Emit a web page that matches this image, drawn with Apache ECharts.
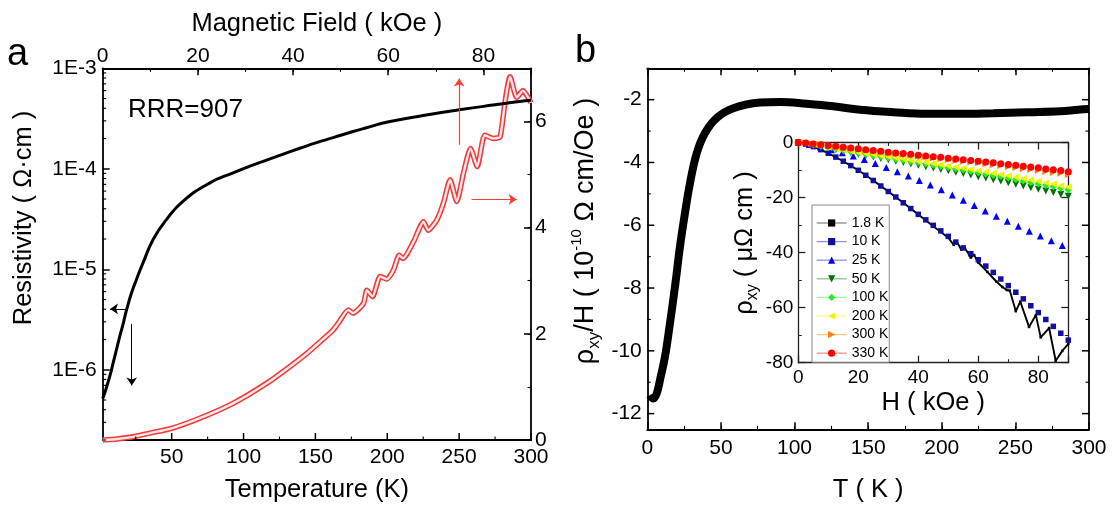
<!DOCTYPE html>
<html><head><meta charset="utf-8">
<script src="https://cdn.jsdelivr.net/npm/echarts@6.0.0/dist/echarts.min.js"></script>
<style>html,body{margin:0;padding:0;background:#fff}#c{width:1115px;height:511px}</style>
</head><body><div id="c"></div>
<script>
// ---------- DATA ----------
// Panel a: resistivity vs temperature (bottom axis / left log axis)
const tempA = [2, 3.6, 7.1, 9.4, 11.7, 14, 15.9, 18.7, 22.2, 25.6, 30.2, 37.2, 46.5, 58, 76.6, 92.8, 100.5, 116, 127.6, 139.2, 150.8, 162.4, 175, 185.5, 200.2, 225, 250, 275, 292, 300];
const rhoA = [5.16e-7, 6.0e-7, 8.8e-7, 1.19e-6, 1.61e-6, 2.19e-6, 2.75e-6, 4.0e-6, 5.9e-6, 8.0e-6, 1.17e-5, 1.99e-5, 3.14e-5, 4.77e-5, 7.25e-5, 9.12e-5, 1.01e-4, 1.22e-4, 1.40e-4, 1.60e-4, 1.82e-4, 2.04e-4, 2.32e-4, 2.56e-4, 2.92e-4, 3.39e-4, 3.86e-4, 4.33e-4, 4.67e-4, 4.81e-4];
// Panel a: magnetoresistance vs magnetic field (top axis / right axis)
const fieldA = [0, 3, 6.4, 9.9, 14.5, 20.4, 27.4, 34.5, 39.3, 42.9, 45.7, 48.4, 49.5, 51.6, 52.6, 54.8, 55.5, 56.7, 58.3, 59.7, 61.1, 62.3, 63.1, 65.3, 67.4, 68.4, 70.2, 71.6, 73.0, 74.4, 75.8, 77.3, 78.7, 80.3, 82.1, 83.5, 84.5, 85.6, 87.0, 88.3, 90.0];
const mrA = [0, 0.02, 0.06, 0.13, 0.22, 0.41, 0.69, 1.07, 1.38, 1.63, 1.85, 2.07, 2.20, 2.45, 2.39, 2.57, 2.82, 2.70, 3.08, 3.03, 3.20, 3.48, 3.42, 3.73, 4.11, 3.95, 4.14, 4.46, 4.90, 4.49, 5.02, 5.49, 5.15, 5.74, 5.68, 5.71, 6.34, 6.84, 6.45, 6.58, 6.35];
// Panel b: rho_xy/H vs T
const tempB = [1.8, 4.1, 6.4, 8.6, 12, 15.4, 18.8, 22.2, 25.6, 29, 33.6, 39.2, 47.1, 58.4, 76.6, 90.1, 108.3, 126.4, 144.5, 167.1, 189.8, 212.4, 235, 257.7, 280.4, 292.8, 300];
const hallB = [-11.41, -11.52, -11.36, -10.93, -10.19, -9.12, -7.96, -6.68, -5.61, -4.66, -3.70, -3.06, -2.58, -2.27, -2.09, -2.07, -2.13, -2.21, -2.32, -2.40, -2.45, -2.45, -2.43, -2.40, -2.37, -2.32, -2.30];
// Inset: rho_xy vs H
const insetNames = ['1.8 K', '10 K', '25 K', '50 K', '100 K', '200 K', '300 K', '330 K'];
const h18 = [0, 5, 10, 15, 20, 25, 30, 35, 40, 45, 50, 51.8, 52.7, 54.3, 55.3, 57.5, 58.6, 60, 63, 66, 68, 69.5, 70.5, 72.5, 74.0, 76.9, 79.2, 80.8, 83.6, 85.8, 88, 90];
const r18 = [0, -1.5, -3.9, -6.8, -10.1, -13.8, -17.8, -21.9, -26.2, -30.4, -34.6, -37.2, -35.8, -38.9, -38.0, -41.8, -40.9, -43.6, -47.0, -50.5, -52.5, -53.6, -53.8, -61.3, -57.8, -67.0, -62.7, -70.8, -67.4, -79.3, -75.7, -73.2];
const hGrid = [0, 2.5, 5, 7.5, 10, 12.5, 15, 17.5, 20, 22.5, 25, 27.5, 30, 32.5, 35, 37.5, 40, 42.5, 45, 47.5, 50, 52.5, 55, 57.5, 60, 62.5, 65, 67.5, 70, 72.5, 75, 77.5, 80, 82.5, 85, 87.5, 90];
const r10 = [0, -0.6, -1.5, -2.6, -3.9, -5.3, -6.8, -8.4, -10.1, -11.9, -13.8, -15.8, -17.8, -19.8, -21.9, -24.0, -26.1, -28.1, -30.1, -32.1, -34.1, -36.2, -38.3, -40.4, -42.6, -44.9, -47.2, -49.6, -52.0, -54.4, -56.8, -59.3, -61.8, -64.3, -66.8, -69.3, -71.8];
const h25 = [0, 3.67, 7.33, 11, 14.67, 18.33, 22, 25.67, 29.33, 33, 36.67, 40.33, 44, 47.67, 51.33, 55, 58.67, 62.33, 66, 69.67, 73.33, 77, 80.67, 84.33, 88];
const r25 = [0, -0.7, -1.6, -2.6, -3.7, -4.9, -6.2, -7.6, -9.1, -10.6, -12.2, -13.8, -15.4, -17.2, -19.1, -21.0, -22.9, -24.9, -26.8, -28.6, -30.4, -32.2, -34.0, -35.7, -37.4];
const r50 = [0, -0.4, -0.9, -1.5, -2.0, -2.6, -3.2, -3.7, -4.3, -4.8, -5.3, -5.8, -6.3, -6.8, -7.3, -7.8, -8.3, -8.8, -9.3, -9.8, -10.3, -10.8, -11.3, -11.8, -12.4, -12.9, -13.5, -14.0, -14.6, -15.2, -15.8, -16.4, -17.0, -17.6, -18.2, -18.9, -19.5];
const r100 = [0, -0.3, -0.8, -1.3, -1.8, -2.3, -2.8, -3.3, -3.8, -4.2, -4.7, -5.1, -5.5, -6.0, -6.4, -6.9, -7.3, -7.7, -8.2, -8.6, -9.1, -9.5, -9.9, -10.4, -10.9, -11.4, -11.9, -12.3, -12.8, -13.4, -13.9, -14.4, -15.0, -15.5, -16.0, -16.6, -17.2];
const r200 = [0, -0.3, -0.7, -1.2, -1.7, -2.2, -2.7, -3.1, -3.6, -4.0, -4.4, -4.8, -5.2, -5.6, -6.1, -6.5, -6.9, -7.3, -7.7, -8.1, -8.5, -9.0, -9.4, -9.8, -10.3, -10.7, -11.2, -11.6, -12.1, -12.6, -13.1, -13.6, -14.1, -14.6, -15.1, -15.7, -16.2];
const r300 = [0, -0.2, -0.5, -0.9, -1.2, -1.6, -1.9, -2.2, -2.6, -2.9, -3.2, -3.5, -3.8, -4.1, -4.4, -4.7, -5.0, -5.3, -5.6, -5.9, -6.2, -6.5, -6.8, -7.1, -7.4, -7.7, -8.1, -8.4, -8.8, -9.1, -9.5, -9.8, -10.2, -10.5, -10.9, -11.2, -11.6];
const r330 = [0, -0.2, -0.5, -0.8, -1.1, -1.4, -1.7, -2.0, -2.3, -2.6, -2.9, -3.2, -3.5, -3.8, -4.0, -4.3, -4.6, -4.9, -5.2, -5.4, -5.7, -6.0, -6.3, -6.5, -6.8, -7.1, -7.4, -7.7, -8.0, -8.3, -8.6, -8.9, -9.2, -9.6, -9.9, -10.2, -10.6];
// Tick labels / tick positions
const tTicksA = [50, 100, 150, 200, 250, 300];
const tMinorA = [25, 75, 125, 175, 225, 275];
const hTicksA = [0, 20, 40, 60, 80];
const rhoTicks = [1e-6, 1e-5, 1e-4, 1e-3];
const mrTicks = [0, 2, 4, 6];
const tTicksB = [0, 50, 100, 150, 200, 250, 300];
const hallTicks = [-12, -10, -8, -6, -4, -2];
const hallMinor = [-11, -9, -7, -5, -3];
const hTicksIn = [0, 20, 40, 60, 80];
const rhoTicksIn = [-80, -60, -40, -20, 0];

// ---------- HELPERS ----------
const F = '"Liberation Sans", Arial, Helvetica, sans-serif';
const zip = (xs, ys) => xs.map((x, i) => [x, ys[i]]);
const logMinor = [];
[-7, -6, -5, -4].forEach(e => { for (let m = 2; m <= 9; m++) { const v = m * Math.pow(10, e); if (v >= 2e-7 && v < 1e-3) logMinor.push(v); } });

function ax(grid, pos, min, max, o) {
  o = o || {};
  const col = o.color || '#000';
  const a = {
    type: o.type || 'value', gridIndex: grid, position: pos, min: min, max: max,
    axisLine: { show: o.line !== false, onZero: false, lineStyle: { color: col, width: o.lw || 1.8 } },
    axisTick: { show: !o.noTicks, inside: true, length: o.tl || 7, lineStyle: { color: col, width: o.tw || 1.5 } },
    axisLabel: o.labels ? { show: true, customValues: o.labels, color: '#000', fontFamily: F, fontSize: o.fs || 21, margin: o.margin == null ? 6 : o.margin } : { show: false },
    splitLine: { show: false }
  };
  if (o.interval) a.interval = o.interval;
  if (o.fmt) a.axisLabel.formatter = o.fmt;
  if (a.type === 'log') a.logBase = 10;
  if (o.name) {
    a.name = o.name; a.nameLocation = 'middle'; a.nameGap = o.nameGap; a.nameMoveOverlap = false;
    a.nameTextStyle = { color: '#000', fontFamily: F, fontSize: 25.5 };
  }
  return a;
}

const xAxis = [
  ax(0, 'bottom', 2, 300, { noTicks: true, labels: tTicksA, margin: 7, name: 'Temperature (K)', nameGap: 37 }),
  ax(0, 'top', 0, 90, { interval: 20, labels: hTicksA, margin: 2, name: 'Magnetic Field ( kOe )', nameGap: 31 }),
  ax(0, 'top', 0, 90, { interval: 10, line: false, tl: 3.5, tw: 1.1 }),
  ax(1, 'bottom', 0, 300, { interval: 50, labels: tTicksB, margin: 8.5, name: 'T ( K )', nameGap: 48 }),
  ax(1, 'top', 0, 300, { interval: 50 }),
  ax(1, 'bottom', 0, 300, { interval: 25, line: false, tl: 3.5, tw: 1.1 }),
  ax(1, 'top', 0, 300, { interval: 25, line: false, tl: 3.5, tw: 1.1 }),
  ax(2, 'bottom', 0, 90, { interval: 20, labels: hTicksIn, fs: 19, margin: 6, name: 'H ( kOe )', nameGap: 27, lw: 1.3, tw: 1.3, color: '#222' }),
  ax(2, 'top', 0, 90, { interval: 20, lw: 1.3, tw: 1.3, color: '#222' }),
  ax(2, 'bottom', 0, 90, { interval: 10, line: false, tl: 3.5, tw: 1, color: '#222' }),
  ax(2, 'top', 0, 90, { interval: 10, line: false, tl: 3.5, tw: 1, color: '#222' })
];
const yAxis = [
  ax(0, 'left', 2e-7, 1e-3, { type: 'log', labels: rhoTicks, margin: 6, fmt: v => '1E' + Math.round(Math.log10(v)) }),
  ax(0, 'right', 0, 7, { interval: 2, labels: mrTicks, margin: 4 }),
  ax(0, 'right', 0, 7, { interval: 1, line: false, tl: 3.5, tw: 1.1 }),
  ax(1, 'left', -12.5, -1, { noTicks: true, labels: hallTicks, margin: 5.5 }),
  ax(1, 'right', -12.5, -1, { noTicks: true }),
  ax(2, 'left', -80, 0, { interval: 20, labels: rhoTicksIn, fs: 19, margin: 5, lw: 1.3, tw: 1.3, color: '#222' }),
  ax(2, 'right', -80, 0, { interval: 20, lw: 1.3, tw: 1.3, color: '#222' }),
  ax(2, 'left', -80, 0, { interval: 10, line: false, tl: 3.5, tw: 1, color: '#222' }),
  ax(2, 'right', -80, 0, { interval: 10, line: false, tl: 3.5, tw: 1, color: '#222' })
];

// tick marks drawn through the axis scales (for axes whose first tick is not at the axis minimum)
function tickSeries(xi, yi, side, len, pts) {
  return {
    type: 'custom', xAxisIndex: xi, yAxisIndex: yi, data: pts, silent: true, clip: false, z: 10,
    renderItem: function (params, api) {
      const p = api.coord([api.value(0), api.value(1)]);
      const cs = params.coordSys;
      const b = cs.y + cs.height, t = cs.y, l = cs.x, r = cs.x + cs.width;
      let s;
      if (side === 0) s = { x1: p[0], y1: b, x2: p[0], y2: b - len };
      else if (side === 1) s = { x1: p[0], y1: t, x2: p[0], y2: t + len };
      else if (side === 2) s = { x1: l, y1: p[1], x2: l + len, y2: p[1] };
      else s = { x1: r, y1: p[1], x2: r - len, y2: p[1] };
      return { type: 'line', shape: s, style: { stroke: '#000', lineWidth: len > 5 ? 1.5 : 1.1 } };
    }
  };
}

function ins(name, xs, ys, color, symbol, size, rot, line) {
  return {
    name: name, type: 'line', xAxisIndex: 7, yAxisIndex: 5, data: zip(xs, ys),
    symbol: symbol, symbolSize: size, symbolRotate: rot || 0, showSymbol: true, showAllSymbol: true,
    itemStyle: { color: color }, lineStyle: line || { color: color, width: 0, opacity: 0 },
    emphasis: { disabled: true }, z: 4
  };
}
const arrowBase = { silent: true, animation: false, symbol: ['none', 'arrow'], symbolSize: 8, label: { show: false }, emphasis: { disabled: true } };

const series = [
  { type: 'line', xAxisIndex: 0, yAxisIndex: 0, data: zip(tempA, rhoA), smooth: 0.5, symbol: 'none', lineStyle: { color: '#000', width: 3 }, z: 3,
    markLine: Object.assign({}, arrowBase, { lineStyle: { color: '#000', width: 1, type: 'solid' },
      data: [[{ coord: [17.5, 4.03e-6] }, { coord: [7.1, 4.03e-6] }], [{ coord: [22.2, 2.86e-6] }, { coord: [22.2, 6.98e-7] }]] }) },
  { type: 'line', xAxisIndex: 1, yAxisIndex: 1, data: zip(fieldA, mrA), smooth: 0.2, symbol: 'none', lineStyle: { color: '#ee3b3b', width: 5.5 }, z: 2,
    markLine: Object.assign({}, arrowBase, { lineStyle: { color: '#ff3a3a', width: 1.2, type: 'solid' },
      data: [[{ coord: [74.9, 5.56] }, { coord: [74.9, 6.81] }], [{ coord: [77.5, 4.53] }, { coord: [87.0, 4.53] }]] }) },
  { type: 'line', xAxisIndex: 1, yAxisIndex: 1, data: zip(fieldA, mrA), smooth: 0.2, symbol: 'none', lineStyle: { color: '#fde6e6', width: 2.4 }, z: 2 },
  { type: 'line', xAxisIndex: 3, yAxisIndex: 3, data: zip(tempB, hallB), smooth: 0.4, symbol: 'none', lineStyle: { color: '#000', width: 8 }, z: 3 },
  ins('1.8 K', h18, r18, '#000', 'rect', 2.5, 0, { color: '#000', width: 1.9 }),
  ins('10 K', hGrid, r10, '#10109a', 'rect', 5.5),
  ins('25 K', h25, r25, '#0000ff', 'triangle', 7),
  ins('50 K', hGrid, r50, '#007000', 'triangle', 7, 180),
  ins('100 K', hGrid, r100, '#22ee22', 'diamond', 7.5),
  ins('200 K', hGrid, r200, '#f4f400', 'triangle', 7, 90),
  ins('300 K', hGrid, r300, '#ff8000', 'triangle', 7, -90),
  ins('330 K', hGrid, r330, '#ff0000', 'circle', 7),
  tickSeries(0, 0, 0, 7, tTicksA.map(v => [v, 1e-4])),
  tickSeries(0, 0, 0, 3.5, tMinorA.map(v => [v, 1e-4])),
  tickSeries(0, 0, 2, 3.5, logMinor.map(v => [100, v])),
  tickSeries(3, 3, 2, 7, hallTicks.map(v => [150, v])),
  tickSeries(3, 3, 3, 7, hallTicks.map(v => [150, v])),
  tickSeries(3, 3, 2, 3.5, hallMinor.map(v => [150, v])),
  tickSeries(3, 3, 3, 3.5, hallMinor.map(v => [150, v]))
];

const rich = {
  m: { fontFamily: F, fontSize: 25.5, fill: '#000', lineHeight: 32 },
  s: { fontFamily: F, fontSize: 16, fill: '#000', lineHeight: 16, verticalAlign: 'bottom' },
  p: { fontFamily: F, fontSize: 14, fill: '#000', lineHeight: 14, verticalAlign: 'top' }
};
const richB = {
  m: { fontFamily: F, fontSize: 27, fill: '#000', lineHeight: 34 },
  s: { fontFamily: F, fontSize: 17, fill: '#000', lineHeight: 17, verticalAlign: 'bottom' },
  p: { fontFamily: F, fontSize: 15, fill: '#000', lineHeight: 15, verticalAlign: 'top' }
};

const option = {
  animation: false,
  backgroundColor: '#fff',
  grid: [
    { left: 102.7, top: 68.3, width: 428.3, height: 371.7, containLabel: false, outerBoundsMode: 'none' },
    { left: 647.3, top: 68.3, width: 441.7, height: 361, containLabel: false, outerBoundsMode: 'none' },
    { left: 798.3, top: 142.5, width: 270, height: 220.2, containLabel: false, outerBoundsMode: 'none', show: true, backgroundColor: '#fff', borderWidth: 0 }
  ],
  xAxis: xAxis,
  yAxis: yAxis,
  legend: {
    orient: 'vertical', left: 812, top: 205, padding: [11, 1, 2, 4], itemWidth: 30, itemHeight: 9, itemGap: 4.6,
    data: insetNames, selectedMode: false, borderColor: '#888', borderWidth: 1, backgroundColor: '#fff',
    textStyle: { fontFamily: F, fontSize: 14, color: '#000', lineHeight: 14 },
    lineStyle: { width: 1.3, opacity: 0.45 }, z: 10
  },
  graphic: [
    { type: 'text', x: 7, y: 55, style: { text: 'a', font: '38px ' + F, fill: '#000', align: 'left', verticalAlign: 'middle' } },
    { type: 'text', x: 575, y: 52, style: { text: 'b', font: '38px ' + F, fill: '#000', align: 'left', verticalAlign: 'middle' } },
    { type: 'text', x: 128, y: 110, style: { text: 'RRR=907', font: '26px ' + F, fill: '#000', align: 'left', verticalAlign: 'middle' } },
    { type: 'text', x: 24, y: 218, rotation: Math.PI / 2, style: { text: 'Resistivity ( Ω·cm )', font: '25.5px ' + F, fill: '#000', align: 'center', verticalAlign: 'middle' } },
    { type: 'text', x: 586, y: 231, rotation: Math.PI / 2, style: { text: '{m|ρ}{s|xy}{m|/H ( 10}{p|-10}{m| Ω cm/Oe )}', rich: richB, align: 'center', verticalAlign: 'middle' } },
    { type: 'text', x: 745, y: 243, rotation: Math.PI / 2, style: { text: '{m|ρ}{s|xy}{m| ( μΩ cm )}', rich: rich, align: 'center', verticalAlign: 'middle' } }
  ],
  series: series
};
const chart = echarts.init(document.getElementById('c'), null, { renderer: 'canvas' });
chart.setOption(option);
</script></body></html>
